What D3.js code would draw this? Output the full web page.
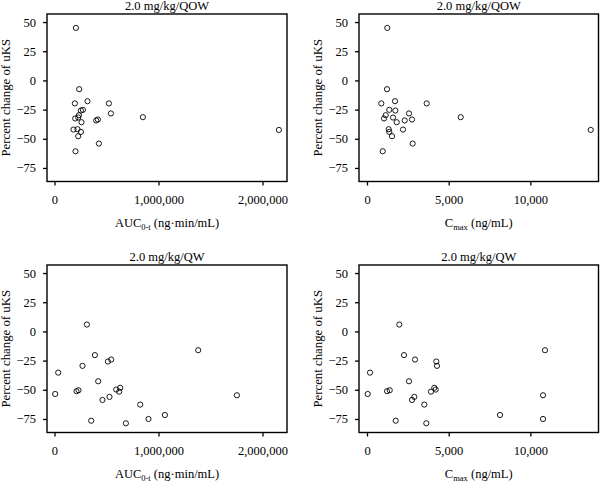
<!DOCTYPE html>
<html>
<head>
<meta charset="utf-8">
<script src="https://cdn.jsdelivr.net/npm/d3@7"></script>
<style>
  html, body { margin: 0; padding: 0; background: #fff; }
  svg { display: block; }
  text { font-family: "Liberation Serif", "Times New Roman", serif; fill: #000; }
</style>
</head>
<body>
<svg id="chart" width="600" height="482"></svg>
<script>
// ---------- DATA ----------
// 2.0 mg/kg/QOW subjects
const qowPct  = [45, -7.5, -19.7, -17.8, -19.7, -25.2, -25.8, -29.8, -32.6, -31.8, -28.3,
                 -35.8, -34.3, -33.5, -42.1, -41.8, -44.1, -47.8, -54.1, -60.7, -31.5, -42.4];
const qowAuc  = [205800, 237500, 196000, 317000, 523000, 273000, 254000, 234600, 199000, 228000, 542000,
                 259600, 401000, 417000, 182700, 221000, 254000, 228000, 427000, 202000, 850000, 2157700];
const qowCmax = [1243, 1224, 875, 1714, 3655, 1365, 1733, 1145, 1041, 1592, 2571,
                 1818, 2308, 2755, 2204, 1328, 1365, 1531, 2797, 961, 5737, 13695];

// 2.0 mg/kg/QW subjects
const qwPct  = [5.9, -35.3, -29.5, -20.3, -25.8, -24.1, -16.1, -42.7, -53.6, -51.2, -50.4,
                -56.1, -58.7, -48.3, -49.8, -51.6, -62.7, -76.5, -78.7, -75, -71.6, -54.7];
const qwAuc  = [311500, 35600, 269200, 388500, 513500, 545200, 1381700, 420200, 6700, 211500, 230800,
                528800, 461500, 631700, 593300, 622100, 824000, 352900, 686500, 903800, 1061500, 1753800];
const qwCmax = [1977, 184, 4285, 2265, 4243, 2939, 10897, 2571, 43, 1224, 1390,
                2896, 2755, 4120, 4206, 3918, 3508, 1757, 3630, 10775, 8142, 10775];

const yTicks    = [-75, -50, -25, 0, 25, 50];
const aucTicks  = [0, 1000000, 2000000];
const cmaxTicks = [0, 5000, 10000];
const titleQOW = "2.0 mg/kg/QOW";
const titleQW  = "2.0 mg/kg/QW";
const yLabel = "Percent change of uKS";

// ---------- LAYOUT ----------
const svg = d3.select("#chart");
const FS = 12.5;

const yDomain = [-86.6, 56.9];
const aucDomain = [-72100, 2235600];
const cmaxDomain = [-490, 14172];

const panels = [
  { x0: 47,  x1: 287,   y0: 14,  y1: 181.5, title: titleQOW, xs: qowAuc,  ys: qowPct, xDomain: aucDomain,  xTicks: aucTicks,  kind: "auc",  yLabX: 9.5 },
  { x0: 359, x1: 598.5, y0: 14,  y1: 181.5, title: titleQOW, xs: qowCmax, ys: qowPct, xDomain: cmaxDomain, xTicks: cmaxTicks, kind: "cmax", yLabX: 322 },
  { x0: 47,  x1: 287,   y0: 265, y1: 432.5, title: titleQW,  xs: qwAuc,   ys: qwPct,  xDomain: aucDomain,  xTicks: aucTicks,  kind: "auc",  yLabX: 9.5 },
  { x0: 359, x1: 598.5, y0: 265, y1: 432.5, title: titleQW,  xs: qwCmax,  ys: qwPct,  xDomain: cmaxDomain, xTicks: cmaxTicks, kind: "cmax", yLabX: 322 }
];

const fmt = d3.format(",");

panels.forEach(p => {
  const x = d3.scaleLinear().domain(p.xDomain).range([p.x0, p.x1]);
  const y = d3.scaleLinear().domain(yDomain).range([p.y1, p.y0]);
  const g = svg.append("g");

  // Frame
  g.append("rect")
    .attr("x", p.x0).attr("y", p.y0)
    .attr("width", p.x1 - p.x0).attr("height", p.y1 - p.y0)
    .attr("fill", "none").attr("stroke", "#000").attr("stroke-width", 1.4);

  // Y axis
  const ya = g.append("g")
    .attr("transform", `translate(${p.x0},0)`)
    .call(d3.axisLeft(y).tickValues(yTicks).tickSize(4).tickSizeOuter(0).tickPadding(7).tickFormat(d3.format("d")));
  ya.select(".domain").remove();
  ya.selectAll("line").attr("stroke", "#000").attr("stroke-width", 1.3);
  ya.selectAll("text").attr("font-size", FS).attr("font-family", '"Liberation Serif", "Times New Roman", serif');

  // X axis
  const xa = g.append("g")
    .attr("transform", `translate(0,${p.y1})`)
    .call(d3.axisBottom(x).tickValues(p.xTicks).tickSize(4).tickSizeOuter(0).tickPadding(9.5).tickFormat(fmt));
  xa.select(".domain").remove();
  xa.selectAll("line").attr("stroke", "#000").attr("stroke-width", 1.3);
  xa.selectAll("text").attr("font-size", FS).attr("font-family", '"Liberation Serif", "Times New Roman", serif');

  // Title
  g.append("text")
    .attr("x", (p.x0 + p.x1) / 2).attr("y", p.y0 - 4.5)
    .attr("text-anchor", "middle").attr("font-size", FS)
    .text(p.title);

  // Y label
  g.append("text")
    .attr("transform", `translate(${p.yLabX},${(p.y0 + p.y1) / 2}) rotate(-90)`)
    .attr("text-anchor", "middle").attr("font-size", 12.8)
    .text(yLabel);

  // X label
  const xl = g.append("text")
    .attr("x", (p.x0 + p.x1) / 2).attr("y", p.y1 + 45)
    .attr("text-anchor", "middle").attr("font-size", FS);
  if (p.kind === "auc") {
    xl.append("tspan").text("AUC");
    xl.append("tspan").attr("font-size", 8.5).attr("dy", 3).text("0-t");
    xl.append("tspan").attr("dy", -3).text(" (ng·min/mL)");
  } else {
    xl.append("tspan").text("C");
    xl.append("tspan").attr("font-size", 8.5).attr("dy", 3).text("max");
    xl.append("tspan").attr("dy", -3).text(" (ng/mL)");
  }

  // Points
  g.append("g").selectAll("circle")
    .data(p.xs.map((v, i) => [v, p.ys[i]]))
    .join("circle")
    .attr("cx", d => x(d[0]))
    .attr("cy", d => y(d[1]))
    .attr("r", 2.6)
    .attr("fill", "none")
    .attr("stroke", "#000")
    .attr("stroke-width", 0.9);
});
</script>
</body>
</html>
